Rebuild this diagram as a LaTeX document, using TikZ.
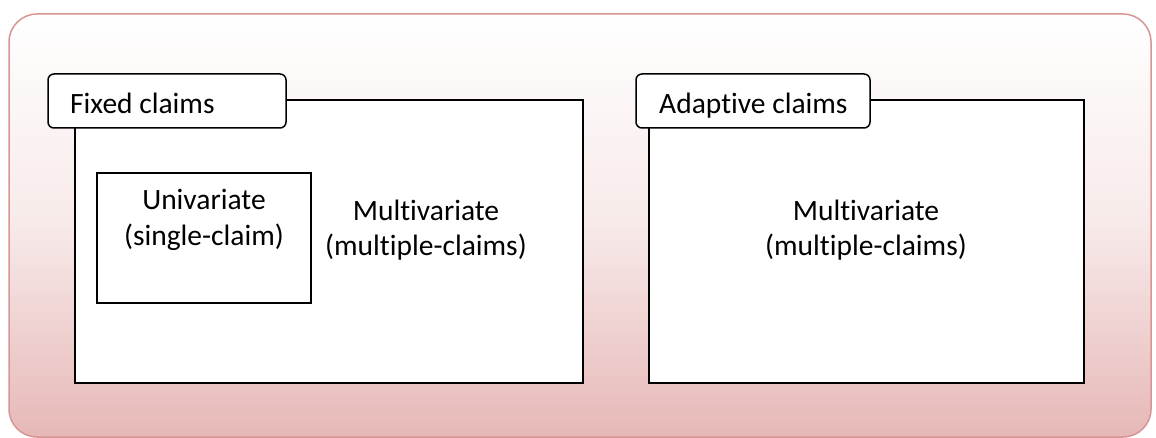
\documentclass[tikz,border=0pt]{standalone}
\usepackage{fontspec}
\setmainfont{Carlito}[Ligatures=NoCommon]
\definecolor{outerline}{HTML}{D99594}
\definecolor{outerbot}{HTML}{E6B8B7}
\begin{document}
\begin{tikzpicture}[x=1pt,y=-1pt,
  panel/.style={draw=black,line width=1.5pt,fill=white},
  tabbox/.style={draw=black,line width=1.5pt,fill=white,rounded corners=6pt},
  lbl/.style={font=\fontsize{29.5}{35.5}\selectfont,align=center,inner sep=0pt},
  tablbl/.style={font=\fontsize{29.5}{35.5}\selectfont,anchor=base west,inner sep=0pt}]
\useasboundingbox (0,0) rectangle (1156,438);
\shade[top color=white,bottom color=outerbot,middle color=outerbot!30,draw=outerline,line width=1.5pt,rounded corners=28pt]
  (9,14) rectangle (1151,437);
% fixed claims panel
\path[panel] (75,100) rectangle (583,383);
\draw[tabbox] (48,74) rectangle (286,128);
\node[tablbl] (fixedlbl) at (70,114) {Fixed claims};
\draw[panel] (97,173) rectangle (311,303);
\node[lbl] (uni) at (204,220) {Univariate\\(single-claim)};
\node[lbl] (multi1) at (426,230) {Multivariate\\(multiple-claims)};
% adaptive panel
\path[panel] (649,100) rectangle (1084,383);
\draw[tabbox] (636,74) rectangle (870,128);
\node[tablbl] (adlbl) at (659,114) {Adaptive claims};
\node[lbl] (multi2) at (866,230) {Multivariate\\(multiple-claims)};
\end{tikzpicture}
\end{document}
